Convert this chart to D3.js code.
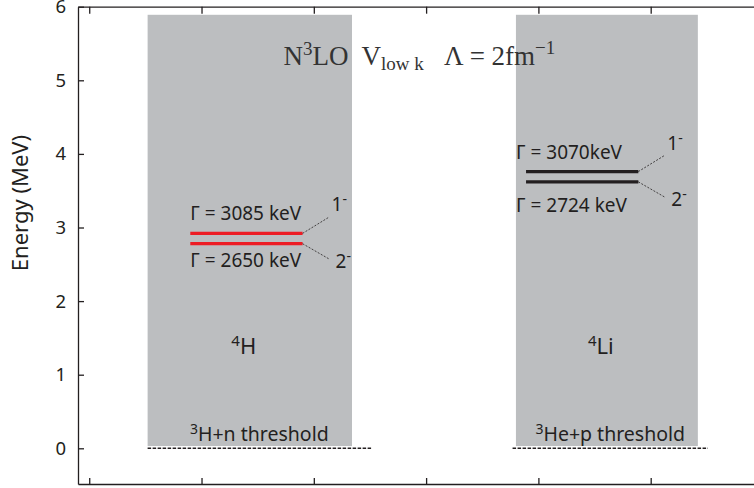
<!DOCTYPE html>
<html>
<head>
<meta charset="utf-8">
<script src="https://cdn.jsdelivr.net/npm/d3@7"></script>
<style>
  body { margin: 0; background: #fff; }
  text { fill: #231f20; }
</style>
</head>
<body>
<div id="chart"></div>
<script>
// data
const energyTicks = [0, 1, 2, 3, 4, 5, 6];
const columnTicks = [0, 1, 2, 3, 4, 5];
const nucleusMass = ["4", "4"];
const nucleusSymbol = ["H", "Li"];
const boxSpan = [[0.52, 2.34], [3.80, 5.42]];
const boxEnergy = [0.03, 5.89];
const levelSpan = [[0.90, 1.90], [3.89, 4.89]];
const levelEnergies = [[2.92, 2.78], [3.76, 3.62]];
const levelWidths = [["3085 keV", "2650 keV"], ["3070keV", "2724 keV"]];
const spins = ["1", "2"];
const thresholdSpan = [[0.52, 2.51], [3.77, 5.51]];
const thresholdMass = ["3", "3"];
const thresholdText = ["H+n threshold", "He+p threshold"];
const levelColors = ["#ed1c24", "#231f20"];

const w = 754;
const h = 488;
const font = "'Noto Sans', 'Open Sans', sans-serif";

const svg = d3.select("#chart").append("svg").attr("width", w).attr("height", h);

// scales
const x = d3.scaleLinear().domain([-0.1, 5.92]).range([78, 754]);
const y = d3.scaleLinear().domain([-0.485, 6]).range([484, 6.7]);

// gray boxes
svg.append("g").selectAll("rect")
  .data(boxSpan)
  .enter()
  .append("rect")
  .attr("x", d => x(d[0]))
  .attr("y", y(boxEnergy[1]))
  .attr("width", d => x(d[1]) - x(d[0]))
  .attr("height", y(boxEnergy[0]) - y(boxEnergy[1]))
  .style("fill", "#bcbec0");

// axes
const yAxis = d3.axisLeft(y).tickValues(energyTicks).tickFormat(d3.format("d"))
  .tickSizeInner(-6).tickSizeOuter(0).tickPadding(12);
const yG = svg.append("g").attr("transform", "translate(" + x(-0.1) + ",0)").call(yAxis);
yG.selectAll("text").style("font-family", font).style("font-size", "18.5px").style("fill", "#231f20");

const xTop = d3.axisTop(x).tickValues(columnTicks).tickSizeInner(-7).tickSizeOuter(0).tickFormat("");
svg.append("g").attr("transform", "translate(0," + y(6) + ")").call(xTop);
const xBottom = d3.axisBottom(x).tickValues(columnTicks).tickSizeInner(-6).tickSizeOuter(0).tickFormat("");
svg.append("g").attr("transform", "translate(0," + y(-0.485) + ")").call(xBottom);
svg.selectAll(".domain, .tick line").style("stroke", "#231f20").style("stroke-width", 1.3);

// y label
svg.append("text")
  .attr("transform", "translate(28," + 203 + ") rotate(-90)")
  .attr("text-anchor", "middle")
  .style("font-family", font)
  .style("font-size", "22px")
  .text("Energy (MeV)");

// title
const title = svg.append("text")
  .attr("x", x(1.73))
  .attr("y", y(5.21))
  .style("font-family", "'Liberation Serif', serif")
  .style("font-size", "27px")
  .style("white-space", "pre")
  .style("fill", "#333");
title.append("tspan").text("N");
title.append("tspan").attr("dy", -10).style("font-size", "19px").text("3");
title.append("tspan").attr("dy", 10).text("LO  V");
title.append("tspan").attr("dy", 5).style("font-size", "19px").text("low k");
title.append("tspan").attr("dy", -5).text("   Λ = 2fm");
title.append("tspan").attr("dy", -11).style("font-size", "19px").text("−1");

// threshold lines and labels
thresholdSpan.forEach((s, i) => {
  svg.append("line")
    .attr("x1", x(s[0])).attr("x2", x(s[1]))
    .attr("y1", y(0)).attr("y2", y(0))
    .style("stroke", "#231f20")
    .style("stroke-width", 1.5)
    .style("stroke-dasharray", "3.5,1.5");
  const t = svg.append("text")
    .attr("x", (x(s[0]) + x(s[1])) / 2)
    .attr("y", y(0) - 7)
    .attr("text-anchor", "middle")
    .style("font-family", font)
    .style("font-size", "19.5px");
  t.append("tspan").attr("dy", -7).style("font-size", "14px").text(thresholdMass[i]);
  t.append("tspan").attr("dy", 7).text(thresholdText[i]);
});

// nucleus labels
boxSpan.forEach((s, i) => {
  const t = svg.append("text")
    .attr("x", (x(s[0]) + x(s[1])) / 2 - 6)
    .attr("y", y(1.28))
    .attr("text-anchor", "middle")
    .style("font-family", font)
    .style("font-size", "22px");
  t.append("tspan").attr("dy", -8).style("font-size", "15px").text(nucleusMass[i]);
  t.append("tspan").attr("dy", 8).text(nucleusSymbol[i]);
});

// levels, widths, spins
levelEnergies.forEach((es, i) => {
  const s = levelSpan[i];
  svg.append("g").selectAll("line")
    .data(es)
    .enter()
    .append("line")
    .attr("x1", x(s[0])).attr("x2", x(s[1]))
    .attr("y1", d => y(d)).attr("y2", d => y(d))
    .style("stroke", levelColors[i])
    .style("stroke-width", 3.2);

  es.forEach((e, j) => {
    const up = j === 0;
    // width label
    svg.append("text")
      .attr("x", x(s[0]) - (i === 0 ? 0 : 10))
      .attr("y", y(e) + (up ? -13 : (i === 0 ? 23 : 30)))
      .style("font-family", font)
      .style("font-size", "19px")
      .text("Γ = " + levelWidths[i][j]);
    // connector
    const ex = x(s[1]) + 26;
    const ey = y(e) + (up ? -16 : 15);
    svg.append("line")
      .attr("x1", x(s[1])).attr("y1", y(e))
      .attr("x2", ex).attr("y2", ey)
      .style("stroke", "#231f20")
      .style("stroke-width", 0.8)
      .style("stroke-dasharray", "2,1.5");
    const t = svg.append("text")
      .attr("x", ex + (up ? 3 : 7))
      .attr("y", ey + (up ? -6 : 9))
      .style("font-family", font)
      .style("font-size", "19px");
    t.append("tspan").text(spins[j]);
    t.append("tspan").attr("dy", -7).style("font-size", "14px").text("-");
  });
});
</script>
</body>
</html>
